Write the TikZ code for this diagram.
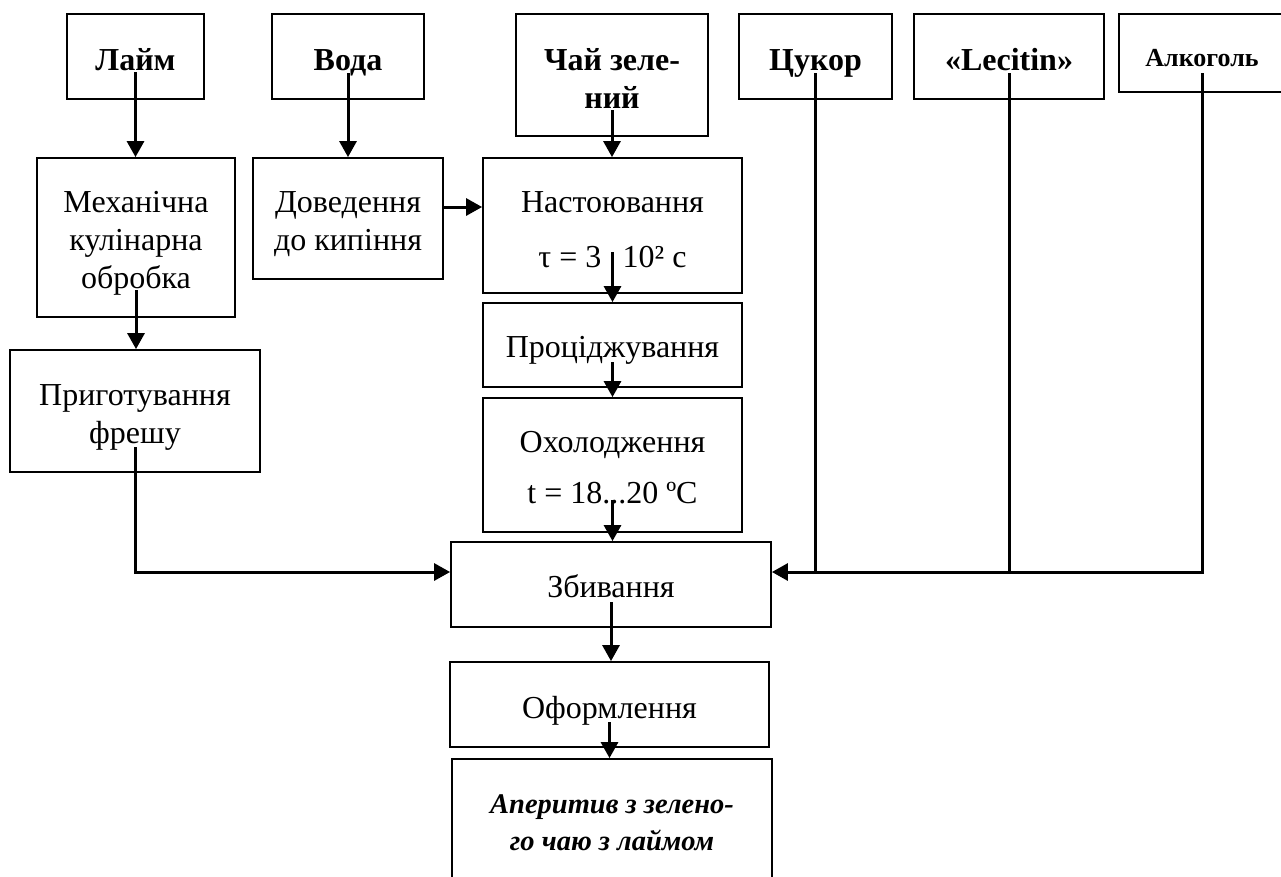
\documentclass[tikz,border=0pt]{standalone}
\usepackage{fontspec}
\setmainfont{Liberation Serif}
\usetikzlibrary{arrows.meta}

% struts that fix where the first baseline sits inside a box
\newcommand\tp[1]{\rule{0pt}{#1pt}}
\newcommand\bt{\rule[-10pt]{0pt}{0pt}}

\begin{document}
\begin{tikzpicture}[x=1pt,y=-1pt,
  box/.style={draw, line width=1.8pt, inner sep=0pt, align=center,
    font=\fontsize{32}{38}\selectfont},
  headbox/.style={box, font=\fontsize{32}{38}\selectfont\bfseries},
  conn/.style={line width=3pt},
  arr/.style={conn, -{Triangle[width=17pt,length=16pt]}}]

\useasboundingbox[fill=white] (0,0) rectangle (1281,876);

% ingredients
\node[headbox, minimum width=137pt, minimum height=85pt] (laim) at (135.5,56.5) {\tp{37}Лайм\bt};
\node[headbox, minimum width=152pt, minimum height=85pt] (voda) at (348,56.5) {\tp{37}Вода\bt};
\node[headbox, minimum width=192pt, minimum height=122pt] (chai) at (612,75) {\tp{38}Чай зеле-\\ний\bt};
\node[headbox, minimum width=153pt, minimum height=85pt] (tsukor) at (815.5,56.5) {\tp{37}Цукор\bt};
\node[headbox, minimum width=190pt, minimum height=85pt] (lecitin) at (1009,56.5) {\tp{37}«Lecitin»\bt};
\node[box, font=\fontsize{26}{30}\selectfont\bfseries, minimum width=166pt, minimum height=78pt] (alko) at (1202,53) {\tp{36}Алкоголь\bt};

% processing steps
\node[box, minimum width=198pt, minimum height=159pt] (mech) at (136,237.5) {\tp{35}Механічна\\кулінарна\\обробка\bt};
\node[box, minimum width=190pt, minimum height=121pt] (dov) at (348,218.5) {\tp{35}Доведення\\до кипіння\bt};
\node[box, minimum width=259pt, minimum height=135pt] (nast) at (612.5,225.5) {\tp{38}Настоювання\\[17pt]τ = 3\,\phantom{·}\,10² с\bt};
\node[box, minimum width=259pt, minimum height=84pt] (proc) at (612.5,345) {\tp{34}Проціджування\bt};
\node[box, minimum width=259pt, minimum height=134pt] (okh) at (612.5,465) {\tp{35}Охолодження\\[13pt]t = 18...20 ºC\bt};
\node[box, minimum width=250pt, minimum height=122pt] (prig) at (135,411) {\tp{36}Приготування\\фрешу\bt};
\node[box, minimum width=320pt, minimum height=85pt] (zbyv) at (611,584.5) {\tp{35}Збивання\bt};
\node[box, minimum width=319pt, minimum height=85pt] (oform) at (609.5,704.5) {\tp{37}Оформлення\bt};
\node[box, font=\fontsize{28.5}{37}\selectfont\bfseries\itshape, minimum width=320pt, minimum height=125pt] (final) at (612,821.5) {\tp{30}Аперитив з зелено-\\го чаю з лаймом\bt};

% junction points on the sides of the whipping step
\coordinate (joinL) at ([yshift=12.5pt]zbyv.west);
\coordinate (joinR) at ([yshift=12.5pt]zbyv.east);

% flow
\draw[arr] ([yshift=-15.5pt]laim.center) -- (laim.center |- mech.north);
\draw[arr] ([yshift=-16.5pt]voda.center) -- (voda.center |- dov.north);
\draw[arr] ([yshift=-35pt]chai.center) -- (chai.center |- nast.north);
\draw[arr] ([yshift=11.5pt]dov.east) -- ([yshift=11.5pt]dov.east -| nast.west);
\draw[arr] ([yshift=-52.5pt]mech.center) -- (mech.center |- prig.north);
\draw[arr] ([yshift=-26.5pt]nast.center) -- (nast.center |- proc.north);
\draw[arr] ([yshift=-17pt]proc.center) -- (proc.center |- okh.north);
\draw[arr] ([yshift=-35pt]okh.center) -- (okh.center |- zbyv.north);
\draw[arr] ([yshift=-36pt]prig.center) |- (joinL);
\draw[conn] ([yshift=-16.5pt]tsukor.center) -- (tsukor.center |- joinR);
\draw[conn] ([yshift=-16.5pt]lecitin.center) -- (lecitin.center |- joinR);
\draw[arr] ([yshift=-20pt]alko.center) |- (joinR);
\draw[arr] ([yshift=-17.5pt]zbyv.center) -- (zbyv.center |- oform.north);
\draw[arr] ([yshift=-17.5pt]oform.center) -- (oform.center |- final.north);

\end{tikzpicture}
\end{document}
